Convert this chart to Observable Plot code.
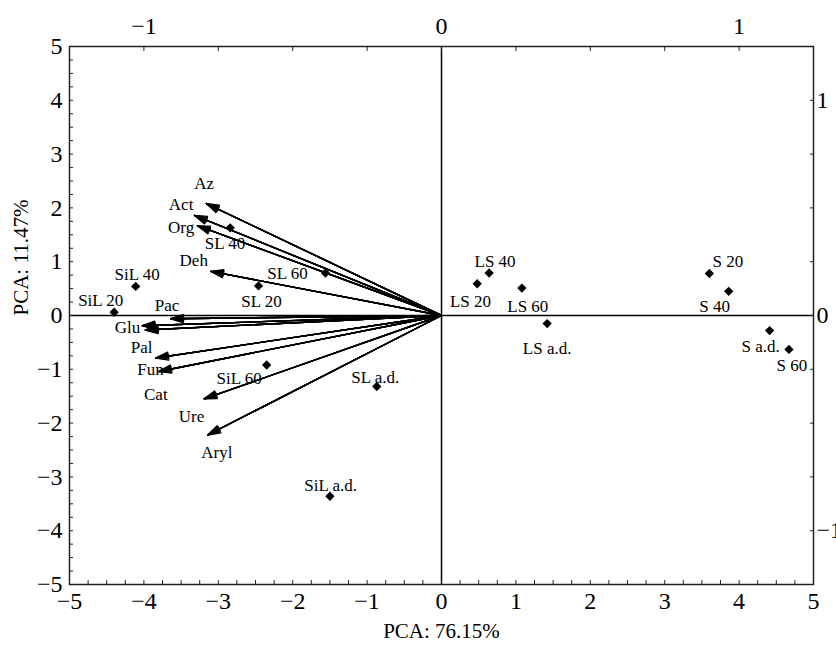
<!DOCTYPE html>
<html><head><meta charset="utf-8">
<script src="https://cdn.jsdelivr.net/npm/d3@7"></script>
<script src="https://cdn.jsdelivr.net/npm/@observablehq/plot@0.6"></script>
<style>body{margin:0;background:#fff} svg{display:block} svg text{font-family:'Liberation Serif','Times New Roman',Times,serif !important}</style>
</head><body><div id="chart"></div>
<script>
// Sample scores (PC1, PC2)
const samples = ["SiL 20","SiL 40","SiL 60","SiL a.d.","SL 20","SL 40","SL 60","SL a.d.","LS 20","LS 40","LS 60","LS a.d.","S 20","S 40","S 60","S a.d."];
const samplePc1 = [-4.40,-4.11,-2.35,-1.50,-2.46,-2.84,-1.56,-0.87,0.48,0.64,1.08,1.42,3.60,3.86,4.67,4.41];
const samplePc2 = [0.06,0.54,-0.92,-3.36,0.55,1.63,0.79,-1.32,0.59,0.79,0.51,-0.15,0.78,0.45,-0.63,-0.28];
// where each sample's label sits (score units)
const sampleLabelPc1 = [-4.58,-4.09,-2.72,-1.49,-2.42,-2.91,-2.07,-0.89,0.39,0.72,1.16,1.42,3.85,3.67,4.71,4.29];
const sampleLabelPc2 = [0.28,0.77,-1.18,-3.17,0.26,1.34,0.78,-1.16,0.26,1.01,0.17,-0.62,1.01,0.17,-0.93,-0.57];

// Variable loadings (top/right axes)
const variables = ["Az","Act","Org","Deh","Pac","Glu","Cat","Pal","Fun","Ure","Aryl"];
const loading1 = [-0.79,-0.83,-0.82,-0.775,-0.91,-1.005,-0.995,-0.96,-0.95,-0.7975,-0.785];
const loading2 = [0.52,0.465,0.4175,0.205,-0.015,-0.0475,-0.0675,-0.1975,-0.26,-0.3875,-0.555];
// variable label positions (score units)
const varLabelPc1 = [-3.19,-3.50,-3.50,-3.33,-3.69,-4.22,-3.84,-4.03,-3.91,-3.36,-3.02];
const varLabelPc2 = [2.45,2.07,1.64,1.02,0.19,-0.22,-1.47,-0.59,-1.00,-1.87,-2.55];

const xTicks = [-5,-4,-3,-2,-1,0,1,2,3,4,5];
const yTicks = [-5,-4,-3,-2,-1,0,1,2,3,4,5];
const loadingTicks = [-1,0,1];
const loadingScale = 4; // biplot scaling of loadings onto score axes

const sampleData = samples.map((s,i)=>({name:s, x:samplePc1[i], y:samplePc2[i], lx:sampleLabelPc1[i], ly:sampleLabelPc2[i]}));
const varData = variables.map((v,i)=>({name:v, x:loading1[i]*loadingScale, y:loading2[i]*loadingScale, lx:varLabelPc1[i], ly:varLabelPc2[i]}));

const minor = d3.range(-5, 5.0001, 0.25);
const fmtMinus = d => (d < 0 ? "\u2212" + Math.abs(d) : String(d));
const serif = "'Liberation Serif', 'Times New Roman', Times, serif";

const headMarks = [36, 27, 18, 9, 2].map(a =>
  Plot.arrow(varData, {x1: 0, y1: 0, x2: "x", y2: "y", stroke: "black", strokeWidth: 1.4, headLength: 14, headAngle: a})
);

const chart = Plot.plot({
  width: 836,
  height: 648,
  marginLeft: 69,
  marginRight: 23,
  marginTop: 46,
  marginBottom: 64,
  style: {fontFamily: serif, background: "white", color: "black"},
  x: {domain: [-5, 5]},
  y: {domain: [-5, 5]},
  marks: [
    Plot.ruleX([0], {stroke: "black", strokeWidth: 1.5}),
    Plot.ruleY([0], {stroke: "black", strokeWidth: 1.5}),
    // ticks (inward)
    Plot.axisX({anchor: "bottom", ticks: minor, tickSize: -4, fill: "none", label: null, stroke: "#222"}),
    Plot.axisX({anchor: "top", ticks: xTicks, tickSize: -4, fill: "none", label: null, stroke: "#222"}),
    Plot.axisY({anchor: "left", ticks: minor, tickSize: -4, fill: "none", label: null, stroke: "#222"}),
    Plot.axisY({anchor: "right", ticks: yTicks, tickSize: -4, fill: "none", label: null, stroke: "#222"}),
    // tick labels
    Plot.axisX({anchor: "bottom", ticks: xTicks, tickSize: 0, tickPadding: 7, fontSize: 24, tickFormat: fmtMinus, label: null}),
    Plot.axisX({anchor: "top", ticks: loadingTicks.map(d => d * loadingScale), tickSize: 0, tickPadding: 13, fontSize: 24, tickFormat: d => fmtMinus(d / loadingScale), label: null}),
    Plot.axisY({anchor: "left", ticks: yTicks, tickSize: 0, tickPadding: 7, fontSize: 24, tickFormat: fmtMinus, label: null}),
    Plot.axisY({anchor: "right", ticks: loadingTicks.map(d => d * loadingScale), tickSize: 0, tickPadding: 3, fontSize: 24, tickFormat: d => fmtMinus(d / loadingScale), label: null}),
    Plot.frame({stroke: "#222", strokeWidth: 1.5}),
    ...headMarks,
    Plot.dot(sampleData, {x: "x", y: "y", symbol: "diamond2", r: 4.2, fill: "black", stroke: "none"}),
    Plot.text(sampleData, {x: "lx", y: "ly", text: "name", fontSize: 17, fill: "black"}),
    Plot.text(varData, {x: "lx", y: "ly", text: "name", fontSize: 17, fill: "black"}),
    Plot.text(["PCA: 76.15%"], {frameAnchor: "bottom", dy: 53, fontSize: 21, fill: "black"}),
    Plot.text(["PCA: 11.47%"], {frameAnchor: "left", dx: -48, rotate: -90, fontSize: 21, fill: "black"})
  ]
});
document.getElementById("chart").appendChild(chart);
</script>
</body></html>
